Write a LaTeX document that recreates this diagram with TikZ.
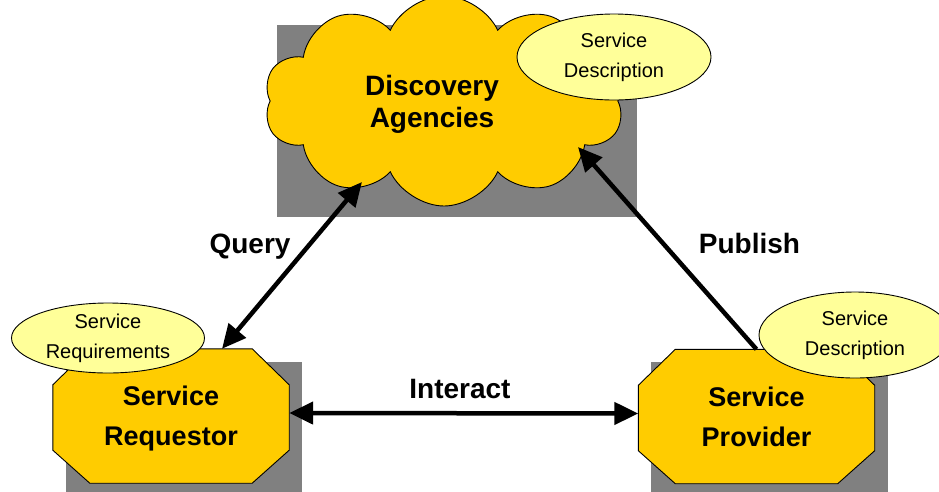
\documentclass[tikz,border=0pt]{standalone}
\usepackage{fontspec}
\setmainfont{Liberation Sans}
\usetikzlibrary{shapes,arrows.meta,positioning,backgrounds}
\definecolor{gold}{HTML}{FFCC00}
\definecolor{paleyellow}{HTML}{FFFF99}
\definecolor{shadegrey}{HTML}{808080}
\tikzset{
    cloudy/.style={
           cloud, cloud puffs=10, cloud puff arc=130,
           draw=black, line width=0.9pt, fill=gold,
           minimum width=360pt, minimum height=210pt, inner sep=0pt
           },
    title/.style={
           align=center, inner sep=0pt,
           font=\fontsize{28}{32}\selectfont\bfseries
           },
    role/.style={
           rectangle,
           minimum width=236pt, minimum height=134pt, inner sep=0pt,
           text depth=0pt,
           align=center, font=\fontsize{27}{40}\selectfont\bfseries
           },
    octagon/.style={
           draw=black, line width=0.9pt, fill=gold
           },
    note/.style={
           ellipse, draw=black, line width=0.9pt, fill=paleyellow,
           inner sep=0pt, align=center,
           font=\fontsize{20}{30}\selectfont
           },
    verb/.style={
           anchor=base, inner sep=0pt,
           font=\fontsize{28}{32}\selectfont\bfseries
           },
    link/.style={
           line width=4.5pt, >={Triangle[length=24pt,width=22pt]}
           },
    backdrop/.style={fill=shadegrey}
}
\begin{document}
\begin{tikzpicture}[x=1pt,y=-1pt]
   \useasboundingbox (0,0) rectangle (939,491);
   \node[cloudy] (agency) at (444,101) {};
   \node[title] (agencytext) at (432,104) {Discovery\\Agencies};
   \node[role] (requestor) at (171,416) {Service\\Requestor};
   \node[role] (provider) at (756.5,416.5) {Service\\Provider};
   \node[note, minimum width=194pt, minimum height=86pt] (description) at (614,57) {Service\\Description};
   \node[note, minimum width=192pt, minimum height=86pt] (offer) at (855,335) {Service\\Description};
   \node[note, minimum width=193pt, minimum height=70pt] (needs) at (108,338) {Service\\Requirements};
   \begin{scope}[on background layer]
      \fill[backdrop] (277,25) rectangle (637,217);
      \foreach \n in {requestor,provider}{
         \fill[backdrop] ([shift={(13,13)}]\n.north west) rectangle ([shift={(13,13)}]\n.south east);
         \filldraw[octagon] ([xshift=37pt]\n.north west) -- ([xshift=-37pt]\n.north east)
            -- ([yshift=-36pt]\n.north east) -- ([yshift=33pt]\n.south east)
            -- ([xshift=-37pt]\n.south east) -- ([xshift=37pt]\n.south west)
            -- ([yshift=33pt]\n.south west) -- ([yshift=-36pt]\n.north west) -- cycle;
      }
   \end{scope}
   \draw[link,<->] ([xshift=51pt]requestor.north) -- ([shift={(-82,81)}]agency.center);
   \draw[link,->] (provider.north) -- ([shift={(134,46)}]agency.center);
   \draw[link,<->] ([yshift=3pt]requestor.east) -- ([yshift=3pt]provider.west);
   \node[verb] (query) at (250,253) {Query};
   \node[verb] (publish) at (749.5,253) {Publish};
   \node[verb] (interact) at (460,398) {Interact};
\end{tikzpicture}
\end{document}
